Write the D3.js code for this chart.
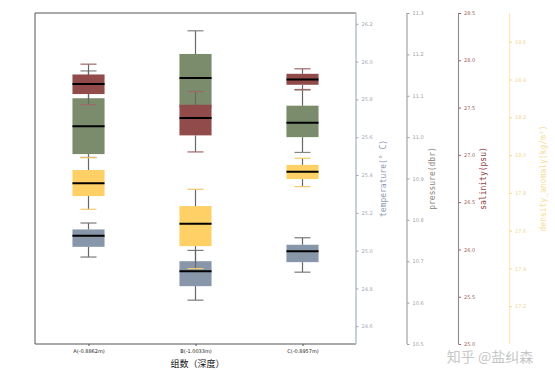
<!DOCTYPE html>
<html><head><meta charset="utf-8">
<script src="https://cdn.jsdelivr.net/npm/d3@7"></script>
<style>body{margin:0;background:#fff}svg{display:block}</style>
</head><body>
<svg id="c" width="555" height="370"></svg>
<script>
// ---- data: [whiskerLow, q1, median, q3, whiskerHigh] ----
const groups = ["A(-0.8862m)", "B(-1.0033m)", "C(-0.8957m)"];
const temperature = [[24.966,25.020,25.078,25.112,25.146],[24.738,24.812,24.891,24.944,25.001],[24.886,24.939,24.997,25.031,25.068]];
const pressure    = [[10.951,10.959,11.026,11.094,11.160],[11.023,11.071,11.143,11.201,11.257],[10.963,11.000,11.035,11.076,11.114]];
const salinity    = [[27.530,27.643,27.748,27.850,27.959],[27.031,27.206,27.390,27.530,27.670],[27.691,27.741,27.797,27.857,27.910]];
const density     = [[17.713,17.783,17.851,17.921,17.986],[17.399,17.518,17.636,17.730,17.819],[17.833,17.873,17.912,17.948,17.983]];
const tempTicks = [24.6,24.8,25.0,25.2,25.4,25.6,25.8,26.0,26.2];
const presTicks = [10.5,10.6,10.7,10.8,10.9,11.0,11.1,11.2,11.3];
const salTicks  = [25.0,25.5,26.0,26.5,27.0,27.5,28.0,28.5];
const denTicks  = [17.2,17.4,17.6,17.8,18.0,18.2,18.4,18.6];
const xTitle = "组数（深度）";

const svg = d3.select("#c");
const L=35, R=356, T=13, B=344;
const x = d3.scaleLinear().domain([0.5,3.5]).range([L,R]);
const bw = 0.3;

const series = [
  {name:"temperature(° C)", data:temperature, domain:[24.506,26.257], ticks:tempTicks, axisX:R,
   box:"#8896aa", cap:"#7a7a7a", spine:"#b9c4d3", tickc:"#a0a8b4", label:"#8d9db4", labelX:383},
  {name:"pressure(dbr)", data:pressure, domain:[10.5,11.3], ticks:presTicks, axisX:407,
   box:"#7a8c6c", cap:"#858585", spine:"#9a9a9a", tickc:"#a0a0a0", label:"#8f8577", labelX:432},
  {name:"salinity(psu)", data:salinity, domain:[25.0,28.5], ticks:salTicks, axisX:458.5,
   box:"#914b4b", cap:"#9e6868", spine:"#8a8a8a", tickc:"#a06060", label:"#8e3f3f", labelX:483},
  {name:"density_anomaly(kg/m³)", data:density, domain:[17.0,18.752], ticks:denTicks, axisX:509.5,
   box:"#ffd066", cap:"#f3c96a", spine:"#fde9b0", tickc:"#f2d590", label:"#f6dc98", labelX:543}
];

// host frame (left, top, bottom)
svg.append("path").attr("d",`M${R},${T}H${L}V${B}H${R}`).attr("fill","none").attr("stroke","#555").attr("stroke-width",1);

series.forEach(s=>{
  const y = d3.scaleLinear().domain(s.domain).range([B,T]);
  const g = svg.append("g");
  const half = (x(1+bw/2)-x(1));
  // boxes
  g.selectAll("rect").data(s.data).join("rect")
    .attr("x",(d,i)=>x(i+1)-half).attr("width",half*2)
    .attr("y",d=>y(d[3])).attr("height",d=>y(d[1])-y(d[3]))
    .attr("fill",s.box);
  // whiskers
  s.data.forEach((d,i)=>{
    const cx = x(i+1);
    g.append("line").attr("x1",cx).attr("x2",cx).attr("y1",y(d[3])).attr("y2",y(d[4])).attr("stroke","#666").attr("stroke-width",1.2);
    g.append("line").attr("x1",cx).attr("x2",cx).attr("y1",y(d[1])).attr("y2",y(d[0])).attr("stroke","#666").attr("stroke-width",1.2);
    [d[0],d[4]].forEach(v=>{
      g.append("line").attr("x1",cx-half/2).attr("x2",cx+half/2).attr("y1",y(v)).attr("y2",y(v)).attr("stroke",s.cap).attr("stroke-width",1.2);
    });
    g.append("line").attr("x1",cx-half).attr("x2",cx+half).attr("y1",y(d[2])).attr("y2",y(d[2])).attr("stroke","#000").attr("stroke-width",2);
  });
  // right axis
  const ax = d3.axisRight(y).tickValues(s.ticks).tickFormat(d3.format(".1f")).tickSize(2.5).tickPadding(3);
  const ag = svg.append("g").attr("transform",`translate(${s.axisX},0)`).call(ax);
  ag.select(".domain").attr("d",`M0,${T}V${B}`).attr("stroke",s.spine).attr("stroke-width",s.axisX===R?1.6:1.1);
  ag.selectAll(".tick line").attr("stroke",s.tickc);
  ag.selectAll(".tick text").attr("fill",s.tickc).style("font-family","DejaVu Sans, sans-serif").style("font-size","5px");
  svg.append("text").attr("transform",`translate(${s.labelX},${(T+B)/2}) rotate(-90)`)
    .attr("text-anchor","middle").attr("dy","0.35em")
    .style("font-family","DejaVu Sans Mono, monospace").style("font-size","8px")
    .attr("fill",s.label).text(s.name);
});

// x axis
const xa = d3.axisBottom(x).tickValues([1,2,3]).tickFormat((d,i)=>groups[i]).tickSize(2).tickPadding(3);
const xg = svg.append("g").attr("transform",`translate(0,${B})`).call(xa);
xg.select(".domain").remove();
xg.selectAll(".tick line").attr("stroke","#555");
xg.selectAll(".tick text").attr("fill","#222").style("font-family","DejaVu Sans, sans-serif").style("font-size","5px");
svg.append("text").attr("x",(L+R)/2+2).attr("y",367).attr("text-anchor","middle")
  .style("font-family","Noto Sans CJK SC, sans-serif").style("font-size","9px").attr("fill","#111").text(xTitle);

// watermark
svg.append("text").attr("x",490).attr("y",362).attr("text-anchor","middle")
  .style("font-family","Noto Sans CJK SC, sans-serif").style("font-size","14px")
  .attr("fill","#bdbdbd").attr("opacity",0.85).text("知乎 @盐纠森");
</script>
</body></html>
